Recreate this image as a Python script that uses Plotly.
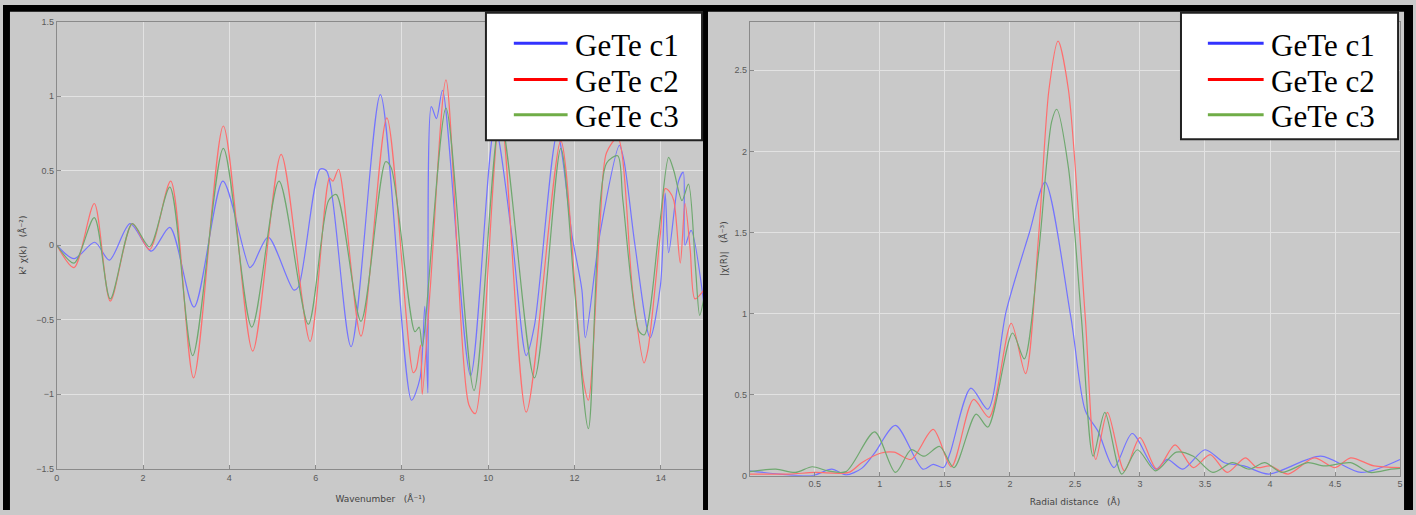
import plotly.graph_objects as go

W, H = 1416, 515

# ---------------- data: left panel (k-space) ----------------
k_c1 = [0, 0.40, 0.88, 1.22, 1.70, 2.19, 2.62, 3.18, 3.85, 4.47, 4.55, 4.90, 5.49, 5.60, 6.10, 6.25,
        6.82, 7.50, 8.22, 8.42, 8.53, 8.60, 8.68, 8.80, 8.94, 9.59, 10.15, 10.54, 10.88, 11.07, 11.60,
        11.95, 12.17, 12.25, 12.59, 13.04, 13.15, 13.40, 13.75, 13.99, 14.10, 14.18, 14.41, 14.52, 14.56,
        14.70, 15.0]
chi_c1 = [0, -0.09, 0.02, -0.10, 0.145, -0.04, 0.12, -0.415, 0.43, -0.15, -0.13, 0.055, -0.30, -0.28, 0.51, 0.50,
          -0.68, 1.01, -1.04, -0.89, -0.41, -0.99, 0.93, 0.85, 1.04, -0.875, 0.80, 0.08, -0.74, -0.54, 0.75,
          0.05, -0.30, -0.62, 0.08, 0.67, 0.56, 0.0, -0.62, -0.27, 0.35, -0.05, 0.43, 0.49, 0.0,
          0.10, -0.40]

k_c2 = [0, 0.40, 0.87, 1.24, 1.75, 2.15, 2.64, 3.17, 3.86, 4.54, 5.20, 5.87, 6.32, 6.40, 6.53, 7.05,
        7.65, 8.26, 8.33, 8.43, 8.47, 8.66, 9.02, 9.55, 9.70, 10.28, 10.88, 11.68, 12.05, 12.20, 12.32,
        12.59, 12.74, 13.00, 13.35, 13.61, 13.70, 13.99, 14.10, 14.20, 14.30, 14.45, 14.56, 14.68, 14.79, 15.0]
chi_c2 = [0, -0.15, 0.28, -0.375, 0.145, -0.03, 0.43, -0.89, 0.80, -0.71, 0.61, -0.645, 0.45, 0.43, 0.51, -0.61,
          0.855, -0.855, -0.83, -0.67, -1.0, -0.27, 1.11, -1.07, -1.13, 0.90, -1.12, 0.70, -0.43, -0.90, -1.04,
          0.145, 0.62, 0.72, -0.32, -0.79, -0.70, 0.08, 0.38, 0.36, 0.30, -0.12, 0.28, -0.03, -0.36, -0.30]

k_c3 = [0, 0.40, 0.87, 1.24, 1.75, 2.15, 2.62, 3.15, 3.86, 4.52, 5.15, 5.83, 6.30, 6.48, 7.05, 7.62,
        7.75, 8.30, 8.40, 8.47, 9.02, 9.67, 10.28, 11.07, 11.68, 12.00, 12.32, 12.74, 13.00, 13.12, 13.50,
        13.62, 13.95, 14.18, 14.30, 14.49, 14.64, 14.80, 14.90, 15.0]
chi_c3 = [0, -0.12, 0.185, -0.36, 0.145, -0.01, 0.39, -0.74, 0.65, -0.55, 0.43, -0.53, 0.30, 0.34, -0.51, 0.56,
          0.52, -0.58, -0.55, -0.68, 0.92, -0.975, 0.85, -0.89, 0.65, -0.30, -1.23, 0.55, 0.60, 0.30, -0.58,
          -0.60, 0.08, 0.59, 0.50, 0.30, 0.41, -0.14, -0.47, -0.35]

# ---------------- data: right panel (R-space) ----------------
r_c1 = [0, 0.23, 0.48, 0.63, 0.74, 0.86, 0.96, 1.12, 1.33, 1.41, 1.49, 1.54, 1.70, 1.83, 1.97, 2.15,
        2.27, 2.47, 2.58, 2.68, 2.80, 2.94, 3.12, 3.21, 3.33, 3.50, 3.65, 3.80, 3.99, 4.39, 4.70, 5.0]
ft_c1 = [0.03, 0.01, 0.0, 0.04, 0.005, 0.045, 0.14, 0.31, 0.04, 0.07, 0.05, 0.14, 0.54, 0.41, 1.01, 1.50,
         1.81, 0.97, 0.40, 0.27, 0.05, 0.26, 0.04, 0.10, 0.04, 0.16, 0.08, 0.06, 0.01, 0.12, 0.02, 0.10]

r_c2 = [0, 0.30, 0.50, 0.76, 0.86, 1.01, 1.11, 1.24, 1.41, 1.55, 1.72, 1.84, 2.01, 2.12, 2.22, 2.30,
        2.37, 2.45, 2.58, 2.66, 2.75, 2.88, 3.00, 3.13, 3.27, 3.41, 3.54, 3.67, 3.81, 3.90, 4.00, 4.14,
        4.34, 4.50, 4.62, 4.80, 5.0]
ft_c2 = [0.01, 0.01, 0.02, 0.02, 0.08, 0.14, 0.145, 0.10, 0.285, 0.055, 0.47, 0.36, 0.94, 0.63, 1.47, 2.38,
         2.68, 2.38, 0.97, 0.10, 0.39, 0.03, 0.235, 0.04, 0.19, 0.05, 0.13, 0.02, 0.11, 0.05, 0.06, 0.01,
         0.11, 0.05, 0.11, 0.06, 0.05]

r_c3 = [0, 0.20, 0.35, 0.48, 0.60, 0.74, 0.96, 1.12, 1.24, 1.34, 1.46, 1.57, 1.74, 1.83, 2.02, 2.11,
        2.22, 2.32, 2.36, 2.45, 2.55, 2.64, 2.73, 2.86, 2.98, 3.12, 3.28, 3.41, 3.56, 3.71, 3.84, 3.96,
        4.09, 4.29, 4.42, 4.62, 4.77, 4.93, 5.0]
ft_c3 = [0.025, 0.04, 0.02, 0.055, 0.03, 0.025, 0.27, 0.02, 0.16, 0.12, 0.18, 0.05, 0.38, 0.30, 0.88, 0.72,
         1.37, 2.18, 2.26, 1.90, 0.97, 0.12, 0.39, 0.01, 0.16, 0.03, 0.145, 0.12, 0.02, 0.08, 0.04, 0.08,
         0.02, 0.08, 0.06, 0.08, 0.02, 0.04, 0.045]

series_names = ["GeTe c1", "GeTe c2", "GeTe c3"]
line_colors = ["#7474ff", "#ff6e6e", "#6fa86f"]
legend_colors = ["#3333ff", "#ff0000", "#70ad47"]

k_tick_vals = [0, 2, 4, 6, 8, 10, 12, 14]
chi_tick_vals = [-1.5, -1, -0.5, 0, 0.5, 1, 1.5]
r_tick_vals = [0.5, 1, 1.5, 2, 2.5, 3, 3.5, 4, 4.5, 5]
ft_tick_vals = [0, 0.5, 1, 1.5, 2, 2.5]

BG = "#c9c9c9"

fig = go.Figure()

left = [(k_c1, chi_c1), (k_c2, chi_c2), (k_c3, chi_c3)]
right = [(r_c1, ft_c1), (r_c2, ft_c2), (r_c3, ft_c3)]

for (xs, ys), name, col in zip(left, series_names, line_colors):
    fig.add_trace(go.Scatter(x=xs, y=ys, mode="lines", name=name, showlegend=False,
                             line=dict(color=col, width=1.2, shape="spline", smoothing=0.8),
                             xaxis="x", yaxis="y"))
for (xs, ys), name, col in zip(right, series_names, line_colors):
    fig.add_trace(go.Scatter(x=xs, y=ys, mode="lines", name=name, showlegend=False,
                             line=dict(color=col, width=1.2, shape="spline", smoothing=0.8),
                             xaxis="x2", yaxis="y2"))

axis_common = dict(showline=True, linecolor="#8a8a8a", linewidth=1, mirror=True,
                   ticks="inside", ticklen=4, tickcolor="#8a8a8a",
                   showgrid=True, gridcolor="#e2e2e2", gridwidth=1, zeroline=False,
                   tickfont=dict(family="Liberation Sans", size=9, color="#5a5a5a"))
title_font = dict(family="DejaVu Sans", size=9, color="#444444")
legend_font = dict(family="Liberation Serif", size=31, color="black")

shapes = [
    # legend boxes
    dict(type="rect", xref="paper", yref="paper", x0=485 / W, x1=702 / W, y0=1 - 138 / H, y1=1 - 8 / H,
         fillcolor="white", line=dict(color="#222222", width=2), layer="above"),
    dict(type="rect", xref="paper", yref="paper", x0=1183 / W, x1=1401 / W, y0=1 - 137 / H, y1=1 - 8 / H,
         fillcolor="white", line=dict(color="#222222", width=2), layer="above"),
    # black frame pieces
    dict(type="rect", xref="paper", yref="paper", x0=0, x1=1, y0=1 - 7 / H, y1=1,
         fillcolor="black", line=dict(width=0), layer="above"),
    dict(type="rect", xref="paper", yref="paper", x0=0, x1=7 / W, y0=0, y1=1,
         fillcolor="black", line=dict(width=0), layer="above"),
    dict(type="rect", xref="paper", yref="paper", x0=703 / W, x1=708 / W, y0=0, y1=1,
         fillcolor="black", line=dict(width=0), layer="above"),
    dict(type="rect", xref="paper", yref="paper", x0=1407 / W, x1=1, y0=0, y1=1,
         fillcolor="black", line=dict(width=0), layer="above"),
]
annotations = []

# legend entries for both panels: (line start px, line end px, text start px)
legend_boxes = [(513, 567, 572), (1210, 1266, 1271)]
row_y = [39, 76, 112]
for (lx0, lx1, tx) in legend_boxes:
    for name, col, yy in zip(series_names, legend_colors, row_y):
        shapes.append(dict(type="line", xref="paper", yref="paper",
                           x0=lx0 / W, x1=lx1 / W, y0=1 - yy / H, y1=1 - yy / H,
                           line=dict(color=col, width=3), layer="above"))
        annotations.append(dict(text=name, xref="paper", yref="paper", x=tx / W, y=1 - (yy + 2) / H,
                                xanchor="left", yanchor="middle", showarrow=False, font=legend_font))

fig.update_layout(
    width=W, height=H,
    margin=dict(l=0, r=0, t=0, b=0),
    paper_bgcolor=BG, plot_bgcolor=BG,
    showlegend=False,
    xaxis=dict(domain=[54 / W, 704 / W], range=[0, 15], tickvals=k_tick_vals,
               title=dict(text="Wavenumber   (Å⁻¹)", font=title_font, standoff=14),
               anchor="y", **axis_common),
    yaxis=dict(domain=[1 - 473 / H, 1 - 17 / H], range=[-1.5, 1.5], tickvals=chi_tick_vals,
               title=dict(text="k² χ(k)   (Å⁻²)", font=title_font, standoff=8),
               anchor="x", **axis_common),
    xaxis2=dict(domain=[750 / W, 1403 / W], range=[0, 5], tickvals=r_tick_vals,
                title=dict(text="Radial distance   (Å)", font=title_font, standoff=10),
                anchor="y2", **axis_common),
    yaxis2=dict(domain=[1 - 480 / H, 1 - 17 / H], range=[0, 2.8], tickvals=ft_tick_vals,
                title=dict(text="|χ(R)|   (Å⁻³)", font=title_font, standoff=5),
                anchor="x2", **axis_common),
    shapes=shapes,
    annotations=annotations,
)

fig.write_html("out.html", config={"displayModeBar": False},
               post_script="document.body.style.margin='0px';document.body.style.overflow='hidden';")
